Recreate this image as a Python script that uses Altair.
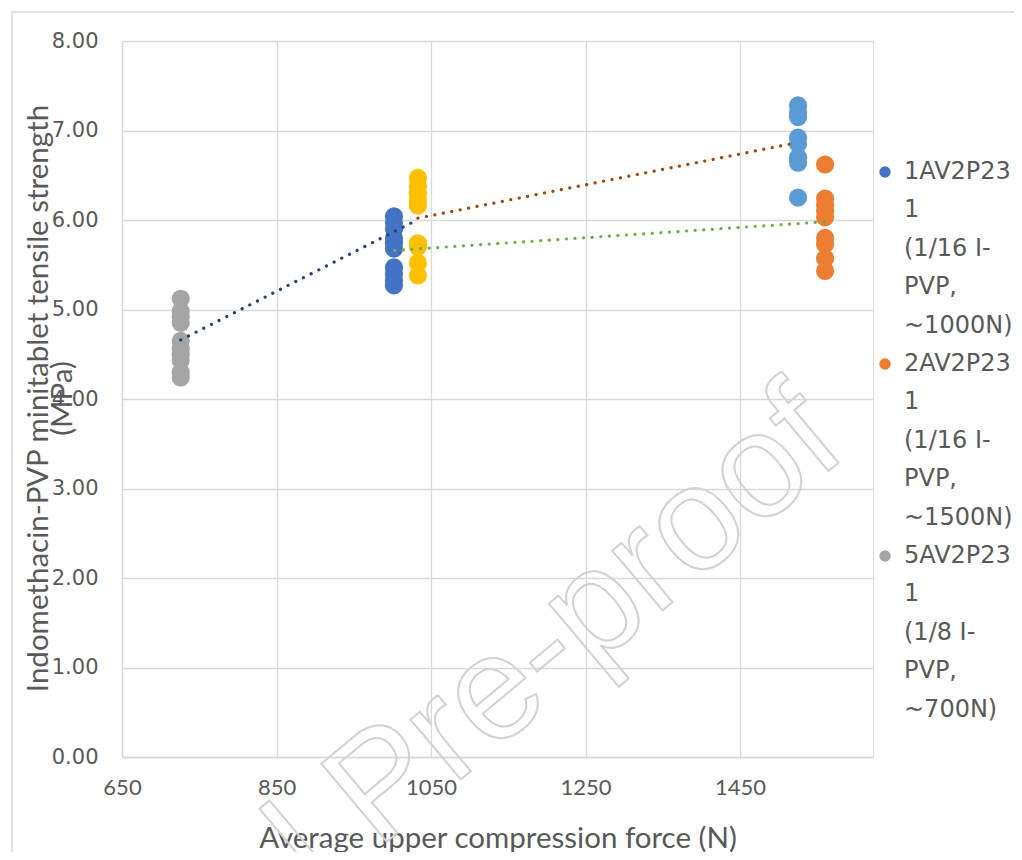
import altair as alt
import pandas as pd

# ---------------- data ----------------
series_names = [
    "1AV2P231 (1/16 I-PVP, ~1000N)",
    "2AV2P231 (1/16 I-PVP, ~1500N)",
    "5AV2P231 (1/8 I-PVP, ~700N)",
    "Series 4",
    "Series 5",
]
series_colors = ["#4472C4", "#ED7D31", "#A5A5A5", "#FFC000", "#5B9BD5"]
legend_lines = [
    ["1AV2P23", "1", "(1/16 I-", "PVP,", "~1000N)"],
    ["2AV2P23", "1", "(1/16 I-", "PVP,", "~1500N)"],
    ["5AV2P23", "1", "(1/8 I-", "PVP,", "~700N)"],
]

s1_x = 1002
s1_y = [6.04, 5.97, 5.90, 5.80, 5.74, 5.68, 5.47, 5.40, 5.33, 5.27]
s2_x = 1560
s2_y = [6.62, 6.24, 6.17, 6.10, 6.03, 5.80, 5.73, 5.57, 5.43]
s3_x = 726
s3_y = [5.12, 4.98, 4.92, 4.85, 4.65, 4.57, 4.50, 4.43, 4.30, 4.24]
s4_x = 1033
s4_y = [6.47, 6.38, 6.30, 6.22, 6.16, 5.74, 5.70, 5.52, 5.38]
s5_x = 1525
s5_y = [7.28, 7.20, 7.15, 6.92, 6.85, 6.70, 6.64, 6.25]

trend_names = ["t_navy", "t_brown", "t_green"]
trend_colors = ["#264478", "#9E480E", "#70AD47"]
trend_x1 = [726, 1033, 1003]
trend_y1 = [4.66, 6.02, 5.66]
trend_x2 = [1025, 1521, 1560]
trend_y2 = [5.97, 6.86, 5.98]

x_ticks = [650, 850, 1050, 1250, 1450]
y_ticks = [0, 1, 2, 3, 4, 5, 6, 7, 8]
x_title = "Average upper compression force (N)"
y_title = ["Indomethacin-PVP minitablet tensile strength", "(MPa)"]
watermark_text = ["Journal Pre-proof"]

# ---------------- tables ----------------
rows = []
for name, xv, ys in zip(series_names,
                        [s1_x, s2_x, s3_x, s4_x, s5_x],
                        [s1_y, s2_y, s3_y, s4_y, s5_y]):
    for yv in ys:
        rows.append({"series": name, "force": xv, "strength": yv})
points_df = pd.DataFrame(rows)

trend_df = pd.DataFrame({
    "trend": trend_names,
    "x1": trend_x1, "y1": trend_y1,
    "x2": trend_x2, "y2": trend_y2,
})
wm_df = pd.DataFrame({"t": watermark_text})

# legend label expression (wrapped lines)
expr = "datum.label"
for name, lines in reversed(list(zip(series_names[:3], legend_lines))):
    arr = "[" + ",".join("'" + l + "'" for l in lines) + "]"
    expr = f"datum.label == '{name}' ? {arr} : ({expr})"

TXT = "#595959"
GRID = "#d9d9d9"
W, H = 751, 716

x_scale = alt.Scale(domain=[650, 1622], nice=False, zero=False)
y_scale = alt.Scale(domain=[0, 8], nice=False)

x_axis = alt.Axis(
    values=x_ticks, format="d", title=x_title, labelFlush=False,
    labelFont="Lato", labelFontSize=22, labelColor=TXT, labelPadding=20,
    ticks=False, domainColor=GRID, domainWidth=1.3,
    gridColor=GRID, gridWidth=1.3,
    titleFont="Lato", titleFontSize=29.5, titleColor=TXT, titleFontWeight="normal",
    titleBaseline="middle", titleY=81, titleX=W / 2,
)
y_axis = alt.Axis(
    values=y_ticks, format=".2f", title=y_title, labelFlush=False,
    labelFont="DejaVu Sans", labelFontSize=21, labelColor=TXT, labelPadding=24,
    ticks=False, domainColor=GRID, domainWidth=1.3,
    gridColor=GRID, gridWidth=1.3,
    titleFont="Lato", titleFontSize=29.5, titleColor=TXT, titleFontWeight="normal",
    titleAngle=270, titleX=-84, titleY=357, titleBaseline="middle",
    titleAlign="center", titleLineHeight=24,
)

points = alt.Chart(points_df).mark_circle(size=330, opacity=1).encode(
    x=alt.X("force:Q", scale=x_scale, axis=x_axis),
    y=alt.Y("strength:Q", scale=y_scale, axis=y_axis),
    color=alt.Color(
        "series:N",
        scale=alt.Scale(domain=series_names, range=series_colors),
        legend=alt.Legend(
            orient="none", legendX=751, legendY=119, title=None,
            values=series_names[:3], labelExpr=expr,
            labelFont="DejaVu Sans", labelFontSize=24, labelColor=TXT,
            labelLimit=400, labelOffset=7, labelBaseline="middle",
            symbolType="circle", symbolSize=130, rowPadding=14, padding=0,
        ),
    ),
)

trends = alt.Chart(trend_df).mark_rule(
    strokeWidth=3.2, strokeDash=[0.1, 8.5], strokeCap="round"
).encode(
    x=alt.X("x1:Q", scale=x_scale),
    x2="x2:Q",
    y=alt.Y("y1:Q", scale=y_scale),
    y2="y2:Q",
    stroke=alt.Stroke("trend:N", scale=alt.Scale(domain=trend_names, range=trend_colors), legend=None),
)

border = alt.Chart(wm_df).mark_rect(fillOpacity=0, stroke=GRID, strokeWidth=1.5).encode(
    x=alt.value(-110), x2=alt.value(1000), y=alt.value(-29), y2=alt.value(900)
)

watermark = alt.Chart(wm_df).mark_text(
    font="Liberation Sans", fontSize=148, angle=320, align="right",
    baseline="alphabetic", fillOpacity=0, stroke="#d2d2d2", strokeWidth=2,
).encode(text="t:N", x=alt.value(728), y=alt.value(412))

chart = alt.layer(border, points, trends, watermark).properties(
    width=W, height=H,
    padding={"left": 114, "top": 33, "right": 141, "bottom": 95},
    autosize=alt.AutoSizeParams(type="none"),
    background="white",
).configure_view(stroke=None).configure(
    style={"guide-label": {"lineHeight": 38.4}}
)

chart.save("out.html", embed_options={"renderer": "svg", "actions": False})
